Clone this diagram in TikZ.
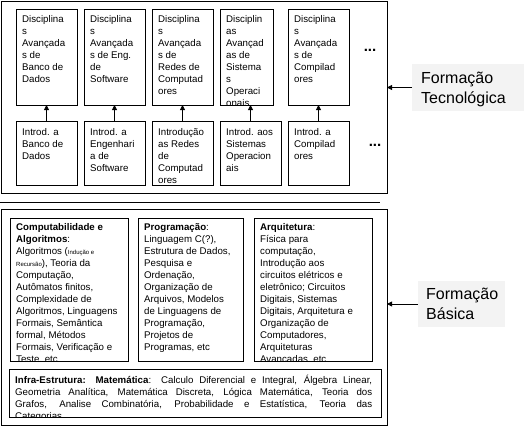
\documentclass[tikz,border=0pt]{standalone}
\usepackage{fontspec}
\setmainfont{Liberation Sans}
\usetikzlibrary{arrows.meta,calc}
\definecolor{labgray}{RGB}{243,243,243}
\newcommand\tbox[7]{% name, x, y, w, h, dy, text
  \node[bx, minimum width=#4pt, minimum height=#5pt] (#1) at (#2,#3) {};
  \begin{scope}
    \clip (#1.north west) rectangle (#1.south east);
    \node[txt] (#1-t) at ($(#1.north west)+(6,#6)$) {#7};
  \end{scope}
  \draw[border] (#1.north west) rectangle (#1.south east);
}
\newcommand\smalltxt[1]{{\fontsize{6}{6}\selectfont #1}}
\begin{document}
\begin{tikzpicture}[x=1pt,y=-1pt,
  border/.style={line width=0.8pt},
  bx/.style={anchor=north west, inner sep=0pt, outer sep=0pt},
  frame/.style={bx, draw, line width=0.8pt},
  txt/.style={anchor=north west, inner sep=0pt, align=left, font=\fontsize{9.7}{12}\selectfont},
  arr/.style={-{Triangle[length=5pt,width=5pt]}, line width=0.8pt},
  lab/.style={anchor=north west, fill=labgray, inner sep=0pt, outer sep=0pt},
  labtxt/.style={anchor=north west, inner sep=0pt, align=left, font=\fontsize{16}{20}\selectfont},
  dots/.style={inner sep=0pt, font=\bfseries\fontsize{15}{15}\selectfont}
]
\useasboundingbox (0,0) rectangle (524,426);

% ---------- Formação Tecnológica ----------
\node[frame, minimum width=386pt, minimum height=192pt] (top) at (1,1) {};

\tbox{t1}{16}{9}{61}{96}{6.5}{Disciplina\\s\\Avançada\\s de\\Banco de\\Dados}
\tbox{t2}{84}{9}{61}{96}{6.5}{Disciplina\\s\\Avançada\\s de Eng.\\de\\Software}
\tbox{t3}{152}{9}{61}{96}{6.5}{Disciplina\\s\\Avançada\\s de\\Redes de\\Computad\\ores}
\tbox{t4}{220}{9}{53}{96}{6.5}{Disciplin\\as\\Avançad\\as de\\Sistema\\s\\Operaci\\onais}
\tbox{t5}{288}{9}{61}{96}{6.5}{Disciplina\\s\\Avançada\\s de\\Compilad\\ores}

\tbox{b1}{16}{121}{61}{64}{7}{Introd. a\\Banco de\\Dados}
\tbox{b2}{84}{121}{61}{64}{7}{Introd. a\\Engenhari\\a de\\Software}
\tbox{b3}{152}{121}{61}{64}{7}{Introdução\\as Redes\\de\\Computad\\ores}
\tbox{b4}{220}{121}{61}{64}{7}{Introd. aos\\Sistemas\\Operacion\\ais}
\tbox{b5}{288}{121}{61}{64}{7}{Introd. a\\Compilad\\ores}

\draw[arr] (b1.north) -- (b1.north |- t1.south);
\draw[arr] (b2.north) -- (b2.north |- t2.south);
\draw[arr] (b3.north) -- (b3.north |- t3.south);
\draw[arr] (b4.north) -- (b4.north |- t4.south);
\draw[arr] (b5.north) -- (b5.north |- t5.south);

\node[dots] (d1) at (370,50) {...};
\node[dots] (d2) at (375,145) {...};

\node[lab, minimum width=112pt, minimum height=47pt] (ft) at (412,64) {};
\node[labtxt] (ft-t) at (421,72) {Formação\\Tecnológica};
\draw[arr] (ft.west) -- (ft.west -| top.east);

% ---------- separator ----------
\coordinate (s1) at (0,202);
\coordinate (s2) at (380,202);
\draw[border] (s1) -- (s2);

% ---------- Formação Básica ----------
\node[frame, minimum width=386pt, minimum height=216.5pt] (bot) at (1,209) {};

\tbox{comp}{10}{218}{118}{143}{5.6}{\textbf{Computabilidade e}\\\textbf{Algoritmos}:\\Algoritmos (\smalltxt{Indução e}\\\smalltxt{Recursão}), Teoria da\\Computação,\\Autômatos finitos,\\Complexidade de\\Algoritmos, Linguagens\\Formais, Semântica\\formal, Métodos\\Formais, Verificação e\\Teste, etc}
\tbox{prog}{138}{218}{105}{143}{5.6}{\textbf{Programação}:\\Linguagem C(?),\\Estrutura de Dados,\\Pesquisa e\\Ordenação,\\Organização de\\Arquivos, Modelos\\de Linguagens de\\Programação,\\Projetos de\\Programas, etc}
\tbox{arq}{254}{218}{118}{143}{5.6}{\textbf{Arquitetura}:\\Física para\\computação,\\Introdução aos\\circuitos elétricos e\\eletrônico; Circuitos\\Digitais, Sistemas\\Digitais, Arquitetura e\\Organização de\\Computadores,\\Arquiteturas\\Avançadas, etc}
\tbox{infra}{9}{369}{372}{48}{5.6}{\makebox[357pt][s]{\textbf{Infra-Estrutura: Matemática}: Calculo Diferencial e Integral, Álgebra Linear,}\\\makebox[357pt][s]{Geometria Analítica, Matemática Discreta, Lógica Matemática, Teoria dos}\\\makebox[357pt][s]{Grafos, Analise Combinatória, Probabilidade e Estatística, Teoria das}\\Categorias}

\node[lab, minimum width=87pt, minimum height=46pt] (fb) at (418,281) {};
\node[labtxt] (fb-t) at (426,288) {Formação\\Básica};
\draw[arr] (fb.west) -- (fb.west -| bot.east);
\end{tikzpicture}
\end{document}
